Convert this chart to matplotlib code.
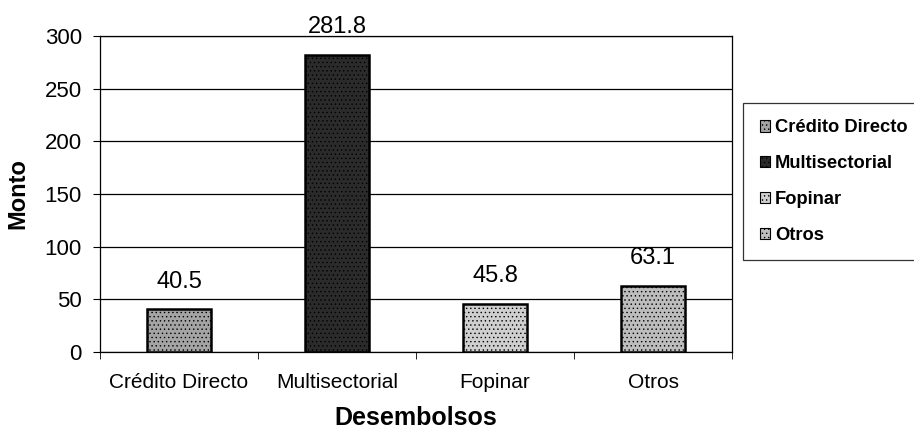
import matplotlib
matplotlib.use("Agg")
import matplotlib.pyplot as plt
from matplotlib.patches import Patch
from matplotlib.ticker import FixedLocator

categories = ["Crédito Directo", "Multisectorial", "Fopinar", "Otros"]
montos = [40.5, 281.8, 45.8, 63.1]
bar_colors = ["#a4a4a4", "#2b2b2b", "#cfcfcf", "#bdbdbd"]
y_ticks = [0, 50, 100, 150, 200, 250, 300]

font = ["Liberation Sans", "DejaVu Sans"]
plt.rcParams["hatch.linewidth"] = 0.5
plt.rcParams["hatch.color"] = "#f0f0f0"

fig = plt.figure(figsize=(9.14, 4.33), dpi=100)
ax = fig.add_axes([0.1094, 0.187, 0.6915, 0.730])

x = list(range(len(categories)))
bars = ax.bar(x, montos, width=0.4, color=bar_colors, edgecolor="black",
              linewidth=1.8, zorder=3, hatch="....")

for xi, v in zip(x, montos):
    ax.annotate(f"{v:.1f}", (xi, v), xytext=(0, 20), textcoords="offset points",
                ha="center", va="center", fontsize=17, family=font)

ax.set_xlim(-0.5, len(categories) - 0.5)
ax.set_ylim(0, 300)
ax.set_yticks(y_ticks)
ax.set_yticklabels([str(t) for t in y_ticks], fontsize=16, family=font)
ax.yaxis.grid(True, color="black", linewidth=0.9, zorder=0)
ax.set_axisbelow(True)

ax.set_xticks(x)
ax.set_xticklabels(categories, fontsize=15, family=font)
ax.xaxis.set_minor_locator(FixedLocator([i - 0.5 for i in range(len(categories) + 1)]))
ax.tick_params(axis="x", which="major", length=0, pad=15)
ax.tick_params(axis="x", which="minor", length=5, direction="out")
ax.tick_params(axis="y", length=5, direction="out", pad=8)

for s in ax.spines.values():
    s.set_linewidth(0.9)
    s.set_color("black")

ax.set_xlabel("Desembolsos", fontsize=18, fontweight="bold", family=font)
ax.xaxis.set_label_coords(0.5, -0.172)
ax.set_ylabel("Monto", fontsize=17, fontweight="bold", family=font)
ax.yaxis.set_label_coords(-0.112, 0.5)

handles = [Patch(facecolor=c, edgecolor="black", linewidth=0.8, hatch="....")
           for c in bar_colors]
leg = fig.legend(handles, categories, loc="upper left",
                 bbox_to_anchor=(743 / 914, 1 - 103 / 433),
                 prop={"family": font, "weight": "bold", "size": 13.2},
                 frameon=True, fancybox=False, edgecolor="black",
                 handlelength=0.55, handleheight=0.55, handletextpad=0.3,
                 labelspacing=1.02, borderpad=0.9, borderaxespad=0)
leg.get_frame().set_linewidth(0.9)

fig.savefig("out.png", dpi=100)
